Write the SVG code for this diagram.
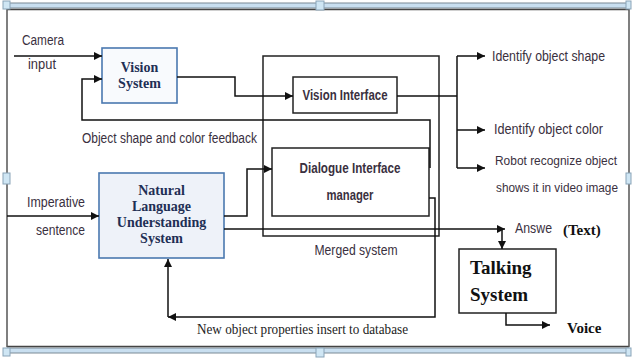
<svg xmlns="http://www.w3.org/2000/svg" width="632" height="358" viewBox="0 0 632 358">
<style>
.ln{fill:none;stroke:#111;stroke-width:1.5}
.bx{fill:#fff;stroke:#222;stroke-width:1.5}
.bb{stroke:#4a78b0;stroke-width:1.6}
.sans{font-family:"Liberation Sans","DejaVu Sans",sans-serif;font-size:14px;fill:#3a3040}
.sm{font-size:12.5px}
.bs{font-family:"Liberation Serif","DejaVu Serif",serif;font-weight:bold;font-size:14px;fill:#1f2f55}
.tk{font-family:"Liberation Serif","DejaVu Serif",serif;font-weight:bold;fill:#111}
.sr{font-family:"Liberation Serif","DejaVu Serif",serif;font-size:15px;fill:#222}
.hd{fill:#cfe6f4;stroke:#8aa4b8;stroke-width:1}
</style>
<defs>
<marker id="ah" viewBox="0 0 10 10" refX="10" refY="5" markerWidth="8" markerHeight="8" markerUnits="userSpaceOnUse" orient="auto">
<path d="M0,0 L10,5 L0,10 z" fill="#111"/>
</marker>
</defs>
<rect width="632" height="358" fill="#fff"/>
<g id="frame">
<rect x="7" y="3" width="622" height="5" fill="#c9dff0" stroke="#7a8a96" stroke-width="1"/>
<line x1="7" y1="9.5" x2="629" y2="9.5" stroke="#444" stroke-width="1.5"/>
<rect x="7" y="348" width="622" height="5" fill="#c9dff0" stroke="#7a8a96" stroke-width="1"/>
<line x1="7" y1="346.5" x2="629" y2="346.5" stroke="#444" stroke-width="1.5"/>
<line x1="7" y1="9" x2="7" y2="347" stroke="#555" stroke-width="1.5"/>
<line x1="629" y1="9" x2="629" y2="347" stroke="#555" stroke-width="1.5"/>
<rect class="hd" x="3" y="1" width="7" height="8"/>
<rect class="hd" x="316" y="1" width="8" height="9"/>
<rect class="hd" x="626" y="1" width="5" height="8"/>
<rect class="hd" x="3" y="173" width="7" height="11"/>
<rect class="hd" x="626" y="173" width="5" height="11"/>
<rect class="hd" x="3" y="348" width="7" height="8"/>
<rect class="hd" x="316" y="348" width="8" height="9"/>
<rect class="hd" x="626" y="348" width="5" height="8"/>
</g>
<g id="merged">
<rect x="263" y="56" width="176" height="180" fill="none" stroke="#222" stroke-width="1.5"/>
<text class="sans" x="356" y="255" text-anchor="middle" textLength="83" lengthAdjust="spacingAndGlyphs">Merged system</text>
</g>
<g id="vision-system">
<rect x="102" y="48" width="75" height="55" fill="#f8fafd" class="bb"/>
<text class="bs" x="139.5" y="72" text-anchor="middle">Vision</text>
<text class="bs" x="139.5" y="88" text-anchor="middle">System</text>
</g>
<g id="nlu">
<rect x="99" y="173" width="125" height="85" fill="#eef2f9" class="bb"/>
<text class="bs" x="161.5" y="195" text-anchor="middle">Natural</text>
<text class="bs" x="161.5" y="211" text-anchor="middle">Language</text>
<text class="bs" x="161.5" y="227" text-anchor="middle">Understanding</text>
<text class="bs" x="161.5" y="243" text-anchor="middle">System</text>
</g>
<g id="vision-interface">
<rect class="bx" x="293" y="77" width="104" height="36"/>
<text class="sans" x="345" y="100" text-anchor="middle" font-weight="bold" textLength="85" lengthAdjust="spacingAndGlyphs" fill="#2a2238">Vision Interface</text>
</g>
<g id="dialogue">
<rect class="bx" x="272" y="148" width="157" height="68"/>
<text class="sans" x="350" y="173" text-anchor="middle" font-weight="bold" textLength="101" lengthAdjust="spacingAndGlyphs" fill="#2a2238">Dialogue Interface</text>
<text class="sans" x="350" y="200" text-anchor="middle" font-weight="bold" textLength="47" lengthAdjust="spacingAndGlyphs" fill="#2a2238">manager</text>
</g>
<g id="talking">
<rect class="bx" x="459" y="249" width="97" height="64"/>
<text class="tk" x="470" y="274" font-size="19">Talking</text>
<text class="tk" x="470" y="301" font-size="19">System</text>
</g>
<g id="connectors">
<path class="ln" d="M14,56 H102" marker-end="url(#ah)"/>
<path class="ln" d="M430,168 V120 H82 V79 H102" marker-end="url(#ah)"/>
<path class="ln" d="M177,77 H235 V96 H293" marker-end="url(#ah)"/>
<path class="ln" d="M397,96 H457"/>
<path class="ln" d="M457,56 V168"/>
<path class="ln" d="M457,56 H485" marker-end="url(#ah)"/>
<path class="ln" d="M457,130 H485" marker-end="url(#ah)"/>
<path class="ln" d="M457,168 H485" marker-end="url(#ah)"/>
<path class="ln" d="M7,216 H99" marker-end="url(#ah)"/>
<path class="ln" d="M224,216 H247 V169 H272" marker-end="url(#ah)"/>
<path class="ln" d="M224,229 H505" marker-end="url(#ah)"/>
<path class="ln" d="M502,229 V249" marker-end="url(#ah)"/>
<path class="ln" d="M429,198 H435 V317 H168" marker-end="url(#ah)"/>
<path class="ln" d="M168,317 V259" marker-end="url(#ah)"/>
<path class="ln" d="M506,313 V325 H550" marker-end="url(#ah)"/>
</g>
<g id="labels">
<text class="sans" x="22" y="45" textLength="42" lengthAdjust="spacingAndGlyphs">Camera</text>
<text class="sans" x="28" y="69" textLength="28" lengthAdjust="spacingAndGlyphs" fill="#5a4a2a">input</text>
<text class="sans" x="82" y="143" textLength="175" lengthAdjust="spacingAndGlyphs">Object shape and color feedback</text>
<text class="sans" x="27" y="207" textLength="58" lengthAdjust="spacingAndGlyphs" fill="#5a4a2a">Imperative</text>
<text class="sans" x="36" y="235" textLength="49" lengthAdjust="spacingAndGlyphs">sentence</text>
<text class="sans" x="492" y="61" textLength="113" lengthAdjust="spacingAndGlyphs">Identify object shape</text>
<text class="sans" x="494" y="134" textLength="109" lengthAdjust="spacingAndGlyphs">Identify object color</text>
<text class="sans sm" x="495" y="165" textLength="122" lengthAdjust="spacingAndGlyphs">Robot recognize object</text>
<text class="sans sm" x="496" y="192" textLength="122" lengthAdjust="spacingAndGlyphs">shows it in video image</text>
<text class="sans" x="515" y="233" textLength="37" lengthAdjust="spacingAndGlyphs">Answe</text>
<text class="tk" x="563" y="235" font-size="15">(Text)</text>
<text class="sr" x="197" y="334" textLength="211" lengthAdjust="spacingAndGlyphs">New object properties insert to database</text>
<text class="tk" x="567" y="333" font-size="15">Voice</text>
</g>
</svg>
